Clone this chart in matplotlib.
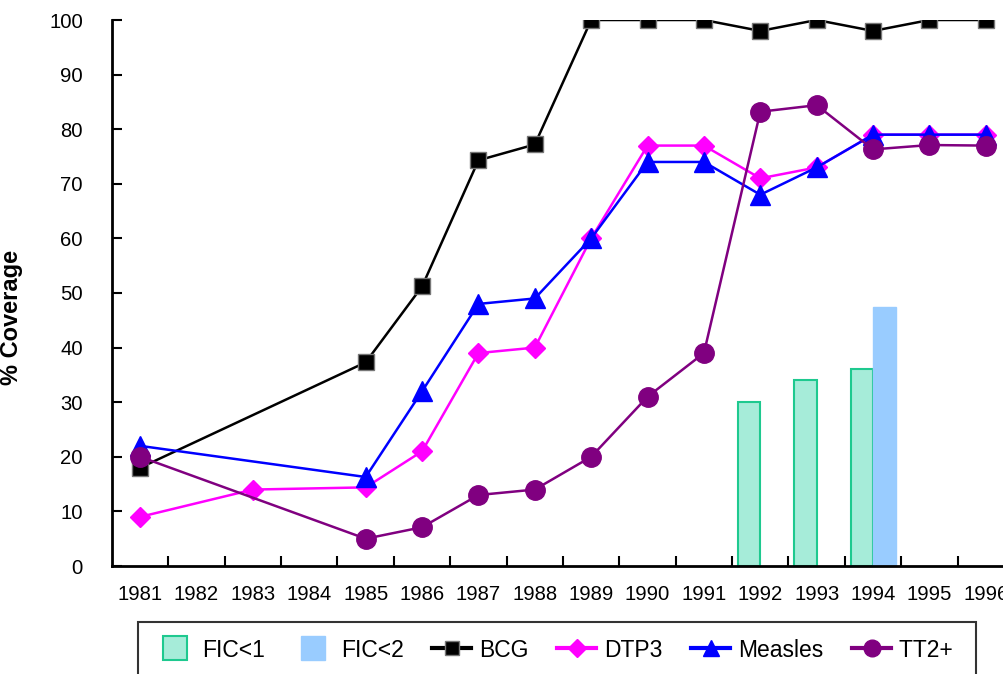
import matplotlib
matplotlib.use("Agg")
import matplotlib.pyplot as plt
from matplotlib.lines import Line2D
import numpy as np

plt.rcParams['font.family'] = ['Liberation Sans', 'DejaVu Sans']

years = [1981, 1982, 1983, 1984, 1985, 1986, 1987, 1988, 1989, 1990,
         1991, 1992, 1993, 1994, 1995, 1996]

fic1_years = [1992, 1993, 1994]
fic1_vals = [30, 34, 36]
fic2_years = [1994]
fic2_vals = [47.4]

bcg_years = [1981, 1985, 1986, 1987, 1988, 1989, 1990, 1991, 1992, 1993, 1994, 1995, 1996]
bcg_vals = [18, 37.3, 51.2, 74.3, 77.2, 100, 100, 100, 98, 100, 98, 100, 100]

dtp3_years = [1981, 1983, 1985, 1986, 1987, 1988, 1989, 1990, 1991, 1992, 1993, 1994, 1995, 1996]
dtp3_vals = [9, 14, 14.4, 21, 39, 40, 60, 77, 77, 71, 73, 79, 79, 79]

measles_years = [1981, 1985, 1986, 1987, 1988, 1989, 1990, 1991, 1992, 1993, 1994, 1995, 1996]
measles_vals = [22, 16.3, 32, 48, 49, 60, 74, 74, 68, 73, 79, 79, 79]

tt2_years = [1981, 1985, 1986, 1987, 1988, 1989, 1990, 1991, 1992, 1993, 1994, 1995, 1996]
tt2_vals = [20, 5, 7.1, 13, 14, 20, 31, 39, 83.2, 84.4, 76.3, 77.1, 77]

yticks = list(range(0, 101, 10))


def pos(yrs):
    return np.array([years.index(y) for y in yrs], dtype=float)


fig = plt.figure(figsize=(10.04, 6.74), dpi=100)
ax = fig.add_axes([112 / 1004, 1 - 566 / 674, (1014 - 112) / 1004, (566 - 20) / 674])

bw = 0.4
ax.bar(pos(fic1_years) - 0.2, fic1_vals, width=bw, color='#a6ecd9',
       edgecolor='#1ec98f', linewidth=1.5, zorder=1)
ax.bar(pos(fic2_years) + 0.2, fic2_vals, width=bw, color='#99ccff',
       edgecolor='#99ccff', linewidth=1.0, zorder=1)

ax.plot(pos(bcg_years), bcg_vals, color='black', lw=1.8, marker='s', ms=12,
        mfc='black', mec='#777777', mew=1, zorder=3)
ax.plot(pos(dtp3_years), dtp3_vals, color='#ff00ff', lw=1.8, marker='D', ms=10,
        mfc='#ff00ff', mec='#ff00ff', zorder=4)
ax.plot(pos(measles_years), measles_vals, color='#0000ff', lw=1.8, marker='^', ms=14,
        mfc='#0000ff', mec='#0000ff', zorder=5)
ax.plot(pos(tt2_years), tt2_vals, color='#800080', lw=1.8, marker='o', ms=14,
        mfc='#800080', mec='#800080', zorder=6)

ax.set_xlim(-0.5, len(years) - 0.5)
ax.set_ylim(0, 100)
ax.set_yticks(yticks)
ax.set_yticklabels([str(v) for v in yticks])
ax.set_xticks(np.arange(len(years)))
ax.set_xticklabels([str(y) for y in years])
ax.set_xticks(np.arange(len(years)) + 0.5, minor=True)
ax.tick_params(axis='x', which='major', length=0, pad=14, labelsize=14.6)
ax.tick_params(axis='x', which='minor', direction='in', length=7, width=1.5)
ax.tick_params(axis='y', direction='in', length=7, width=1.5, pad=21, labelsize=14.6)

for s in ['top', 'right']:
    ax.spines[s].set_visible(False)
for s in ['left', 'bottom']:
    ax.spines[s].set_linewidth(2)

ax.set_ylabel('% Coverage', fontsize=17, fontweight='bold')
ax.yaxis.set_label_coords((23 - 112) / 902, (566 - 317) / 546)

handles = [
    Line2D([], [], ls='none', marker='s', ms=17, mfc='#a6ecd9', mec='#1ec98f', mew=1.5, label='FIC<1'),
    Line2D([], [], ls='none', marker='s', ms=17, mfc='#99ccff', mec='#99ccff', mew=1, label='FIC<2'),
    Line2D([], [], color='black', lw=3, marker='s', ms=10, mfc='black', mec='#777777', label='BCG'),
    Line2D([], [], color='#ff00ff', lw=3, marker='D', ms=9, mfc='#ff00ff', mec='#ff00ff', label='DTP3'),
    Line2D([], [], color='#0000ff', lw=3, marker='^', ms=11, mfc='#0000ff', mec='#0000ff', label='Measles'),
    Line2D([], [], color='#800080', lw=3, marker='o', ms=12, mfc='#800080', mec='#800080', label='TT2+ '),
]
leg = fig.legend(handles=handles, loc='upper left',
                 bbox_to_anchor=(138 / 1004, 1 - 622 / 674), ncol=6,
                 fontsize=16.5, frameon=True, fancybox=False, edgecolor='black',
                 handlelength=1.7, handleheight=1.0, columnspacing=1.25, handletextpad=0.35,
                 borderpad=0.75, borderaxespad=0)
leg.get_frame().set_linewidth(1.5)

fig.savefig('out.png', dpi=100)
